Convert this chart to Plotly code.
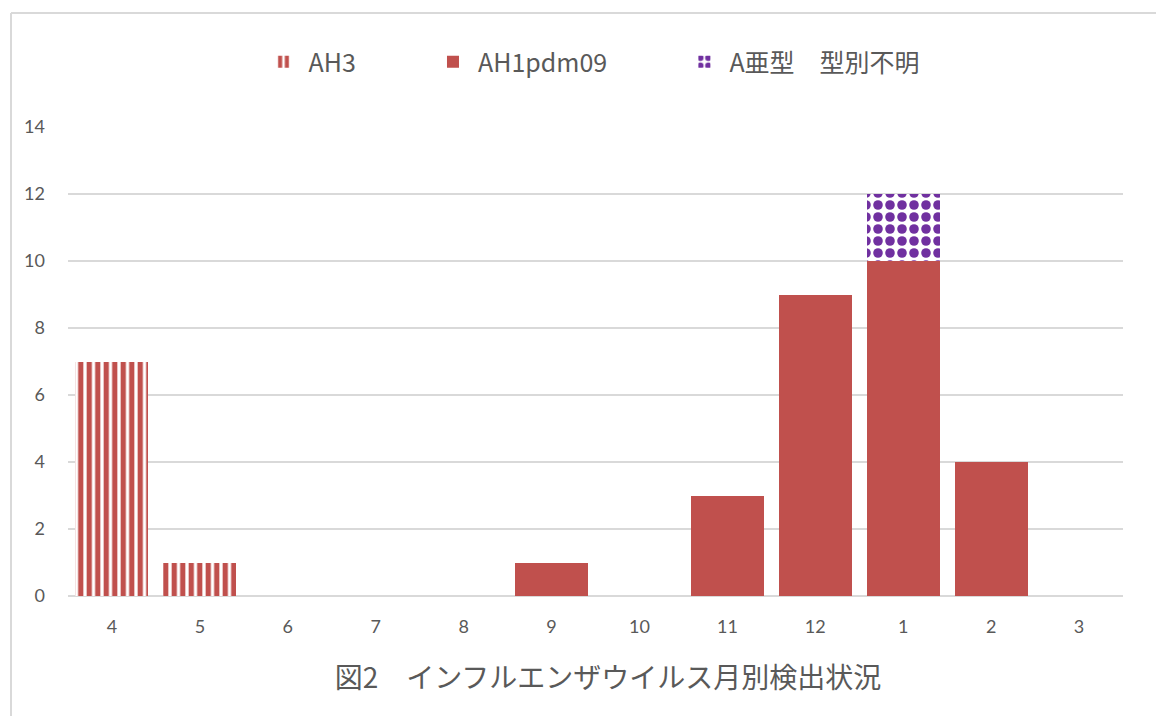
import plotly.graph_objects as go

months = ["4", "5", "6", "7", "8", "9", "10", "11", "12", "1", "2", "3"]
ah3 = [7, 1, 0, 0, 0, 0, 0, 0, 0, 0, 0, 0]
ah1pdm09 = [0, 0, 0, 0, 0, 1, 0, 3, 9, 10, 4, 0]
a_unknown = [0, 0, 0, 0, 0, 0, 0, 0, 0, 2, 0, 0]
y_ticks = [0, 2, 4, 6, 8, 10, 12, 14]
series_names = ["AH3", "AH1pdm09", "A亜型　型別不明"]

RED = "#C0504D"
PURPLE = "#7030A0"
GRID = "#D9D9D9"
TXT = "#595959"
JP = "Noto Sans CJK JP"
PAD = "\u00a0" * 12

fig = go.Figure()
fig.add_trace(go.Bar(
    x=months, y=ah3, name=series_names[0] + PAD,
    marker=dict(color=RED, line=dict(width=0),
                pattern=dict(shape="|", fgcolor=RED, bgcolor="white", fgopacity=1,
                             size=8.5, solidity=0.62, fillmode="replace")),
))
fig.add_trace(go.Bar(
    x=months, y=ah1pdm09, name=series_names[1] + PAD,
    marker=dict(color=RED, line=dict(width=0)),
))
fig.add_trace(go.Bar(
    x=months, y=a_unknown, name=series_names[2],
    marker=dict(color=PURPLE, line=dict(width=0),
                pattern=dict(shape=".", fgcolor=PURPLE, bgcolor="white", fgopacity=1,
                             size=12, solidity=0.5, fillmode="replace")),
))

W, H = 1156, 716
L, R, T, B = 68, 33, 127, 120
pw, ph = W - L - R, H - T - B

def px2x(p):
    return (p - L) / pw

def py2y(p):
    return (H - B - p) / ph

fig.update_layout(
    width=W, height=H,
    margin=dict(l=L, r=R, t=T, b=B),
    paper_bgcolor="white", plot_bgcolor="white",
    barmode="stack", bargap=0.17,
    showlegend=True,
    legend=dict(orientation="h", x=px2x(592), xanchor="center",
                y=py2y(62), yanchor="middle",
                font=dict(family=JP, size=25, color=TXT),
                itemwidth=40, traceorder="normal"),
    title=dict(text="図2　インフルエンザウイルス月別検出状況",
               x=608 / W, xanchor="center", xref="container",
               y=1 - 678 / H, yanchor="middle", yref="container",
               font=dict(family=JP, size=28, color=TXT)),
    xaxis=dict(type="category", showgrid=False, showline=False, zeroline=False,
               ticks="", tickfont=dict(family="Lato", size=18, color=TXT),
               ticklabelstandoff=18, fixedrange=True),
    yaxis=dict(range=[0, 14], tickvals=y_ticks, showgrid=True, gridcolor=GRID,
               gridwidth=1.5, zeroline=True, zerolinecolor=GRID, zerolinewidth=1.5,
               ticks="", tickfont=dict(family="Lato", size=18, color=TXT),
               ticklabelstandoff=22, fixedrange=True),
    shapes=[
        dict(type="line", xref="paper", yref="paper",
             x0=px2x(11), x1=px2x(11), y0=py2y(13), y1=py2y(730),
             line=dict(color=GRID, width=2)),
        dict(type="line", xref="paper", yref="paper",
             x0=px2x(11), x1=px2x(1170), y0=py2y(13), y1=py2y(13),
             line=dict(color=GRID, width=2)),
    ],
)

fig.write_html("out.html")
